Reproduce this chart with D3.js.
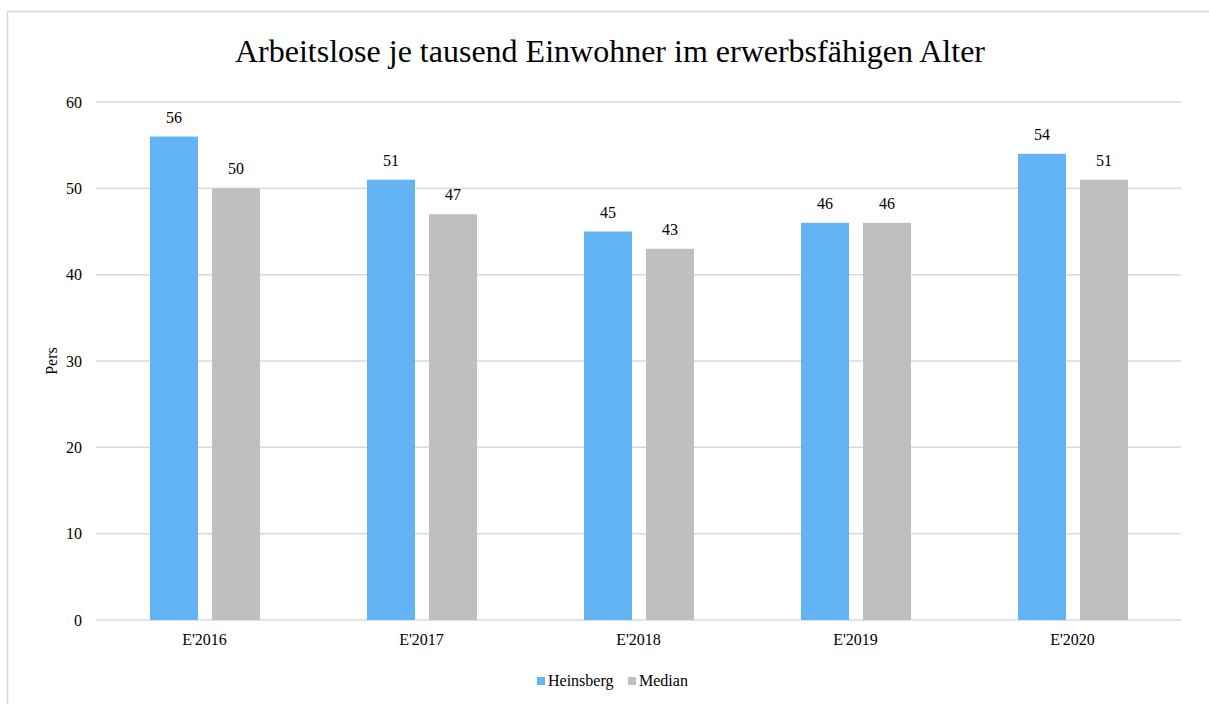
<!DOCTYPE html>
<html><head><meta charset="utf-8">
<script src="https://cdn.jsdelivr.net/npm/d3@7"></script>
<style>body{margin:0;background:#fff;} svg{display:block;}</style>
</head><body>
<svg id="c" width="1209" height="704"></svg>
<script>
const categories = ["E'2016","E'2017","E'2018","E'2019","E'2020"];
const seriesNames = ["Heinsberg","Median"];
const heinsberg = [56,51,45,46,54];
const median = [50,47,43,46,51];
const yTicks = [0,10,20,30,40,50,60];
const colors = ["#63B4F5","#BFBFBF"];
const title = "Arbeitslose je tausend Einwohner im erwerbsfähigen Alter";
const yLabel = "Pers";

const svg = d3.select("#c");
const font = "'Liberation Serif','Times New Roman',serif";
svg.append("rect").attr("x",7.5).attr("y",11.5).attr("width",1220).attr("height",720)
  .attr("fill","#fff").attr("stroke","#d9d9d9").attr("stroke-width",1.5);

const x0 = d3.scaleBand().domain(categories).range([96,1181]).paddingInner(0).paddingOuter(0);
const y = d3.scaleLinear().domain([0,60]).range([620,102]);
const x1 = d3.scaleBand().domain(seriesNames).range([54,164]).paddingInner(0.2258);

svg.append("text").attr("x",610).attr("y",62).attr("text-anchor","middle")
  .attr("font-family",font).attr("font-size",32).attr("fill","#000").text(title);

const g = svg.append("g");
g.selectAll("line.grid").data(yTicks).enter().append("line")
  .attr("x1",96).attr("x2",1181).attr("y1",d=>y(d)).attr("y2",d=>y(d))
  .attr("stroke","#d9d9d9").attr("stroke-width",1.5);
g.selectAll("text.yt").data(yTicks).enter().append("text")
  .attr("x",82).attr("y",d=>y(d)+5.5).attr("text-anchor","end")
  .attr("font-family",font).attr("font-size",16).attr("fill","#000").text(d=>d);

const data = categories.map((c,i)=>({c, vals:[heinsberg[i],median[i]]}));
const grp = g.selectAll("g.cat").data(data).enter().append("g")
  .attr("transform",d=>`translate(${x0(d.c)},0)`);
grp.selectAll("rect").data(d=>d.vals.map((v,j)=>({s:seriesNames[j],v,j}))).enter().append("rect")
  .attr("x",d=>x1(d.s)).attr("width",x1.bandwidth())
  .attr("y",d=>y(d.v)).attr("height",d=>y(0)-y(d.v)).attr("fill",d=>colors[d.j]);
grp.selectAll("text").data(d=>d.vals.map((v,j)=>({s:seriesNames[j],v,j}))).enter().append("text")
  .attr("x",d=>x1(d.s)+x1.bandwidth()/2).attr("y",d=>y(d.v)-14)
  .attr("text-anchor","middle").attr("font-family",font).attr("font-size",16).attr("fill","#000")
  .text(d=>d.v);

g.selectAll("text.xt").data(categories).enter().append("text")
  .attr("x",d=>x0(d)+x0.bandwidth()/2).attr("y",645).attr("text-anchor","middle")
  .attr("font-family",font).attr("font-size",16).attr("fill","#000").text(d=>d);

svg.append("text").attr("transform","translate(57,361) rotate(-90)").attr("text-anchor","middle")
  .attr("font-family",font).attr("font-size",16).attr("fill","#000").text(yLabel);

const leg = svg.append("g");
const legX = [537,628];
seriesNames.forEach((s,i)=>{
  leg.append("rect").attr("x",legX[i]).attr("y",677).attr("width",8).attr("height",8).attr("fill",colors[i]);
  leg.append("text").attr("x",legX[i]+11).attr("y",686).attr("font-family",font).attr("font-size",16)
    .attr("fill","#000").text(s);
});
</script>
</body></html>
